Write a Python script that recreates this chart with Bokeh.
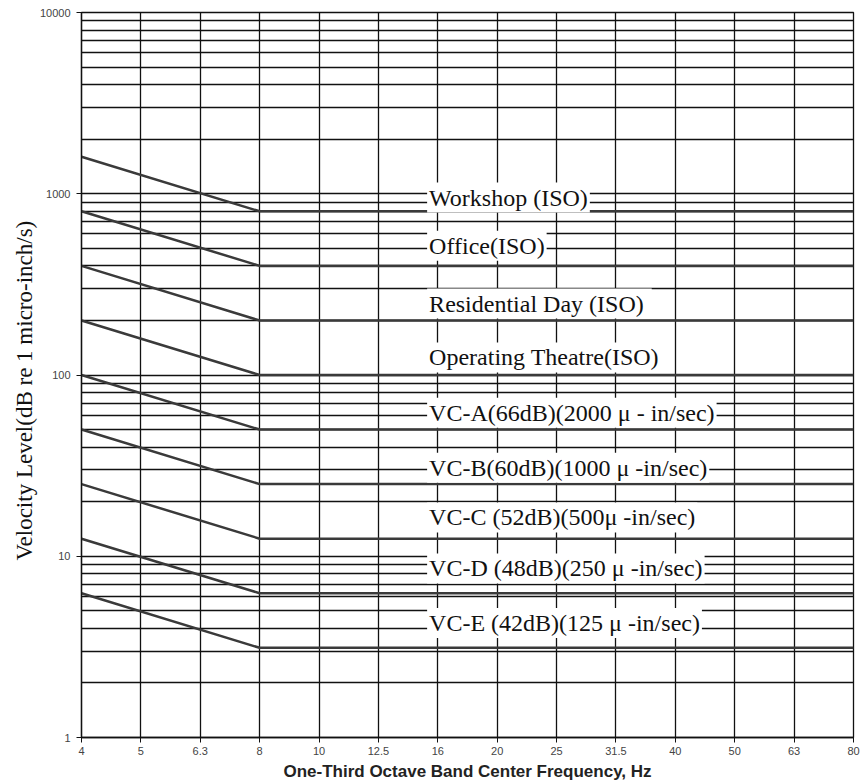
from bokeh.plotting import figure
from bokeh.models import Range1d, FixedTicker, Label, NumeralTickFormatter, Title
from bokeh.embed import file_html
from bokeh.resources import INLINE

# One-third octave band centre frequencies (Hz), shown as evenly spaced categories
freqs = ["4", "5", "6.3", "8", "10", "12.5", "16", "20", "25", "31.5", "40", "50", "63", "80"]

# Vibration criterion curves
curve_names = [
    "Workshop (ISO)",
    "Office(ISO)",
    "Residential Day  (ISO)",
    "Operating Theatre(ISO)",
    "VC-A(66dB)(2000 \u03bc - in/sec)",
    "VC-B(60dB)(1000 \u03bc -in/sec)",
    "VC-C (52dB)(500\u03bc -in/sec)",
    "VC-D (48dB)(250 \u03bc -in/sec)",
    "VC-E (42dB)(125 \u03bc -in/sec)",
]
# velocity level at 4 Hz, and the constant level from 8 Hz up to 80 Hz
level_at_4hz = [1600, 800, 400, 200, 100, 50, 25, 12.5, 6.25]
level_flat = [800, 400, 200, 100, 50, 25, 12.5, 6.25, 3.125]
curve_freqs = ["4", "8", "80"]

y_major = [1, 10, 100, 1000, 10000]

# label placement: left edge in band units, and lift above each curve (ratio)
label_x = 5.82
label_lift = [1.19, 1.29, 1.24, 1.25, 1.24, 1.23, 1.31, 1.37, 1.37]

p = figure(
    width=863, height=783,
    x_range=Range1d(0, len(freqs) - 1),
    y_range=Range1d(1, 10000),
    y_axis_type="log",
    output_backend="svg",
    toolbar_location=None,
    min_border_left=81, min_border_right=10,
    min_border_top=12, min_border_bottom=46,
)
p.background_fill_color = "white"
p.border_fill_color = "white"
p.outline_line_color = "#111111"
p.outline_line_width = 1.3

# grid
grid_color = "#111111"
p.xgrid.grid_line_color = grid_color
p.xgrid.grid_line_width = 1.3
p.ygrid.grid_line_color = grid_color
p.ygrid.grid_line_width = 1.3
p.ygrid.minor_grid_line_color = grid_color
p.ygrid.minor_grid_line_width = 1.3

# x axis
p.xaxis.ticker = FixedTicker(ticks=list(range(len(freqs))))
p.xaxis.major_label_overrides = {i: f for i, f in enumerate(freqs)}
p.xaxis.minor_tick_line_color = None
p.xaxis.major_tick_in = 0
p.xaxis.major_tick_out = 5
p.xaxis.major_label_standoff = 4
p.xaxis.axis_label = "One-Third Octave Band Center Frequency, Hz"
p.xaxis.axis_label_text_font = "Liberation Sans"
p.xaxis.axis_label_text_font_style = "bold"
p.xaxis.axis_label_text_font_size = "17px"
p.xaxis.axis_label_text_color = "#222222"
p.xaxis.axis_label_standoff = 4

# y axis (log)
minor = [k * 10 ** d for d in range(4) for k in range(2, 10)]
p.yaxis.ticker = FixedTicker(ticks=y_major, minor_ticks=minor)
p.yaxis.formatter = NumeralTickFormatter(format="0")
p.yaxis.minor_tick_line_color = None
p.yaxis.major_tick_in = 0
p.yaxis.major_tick_out = 5
p.yaxis.major_label_standoff = 6

for ax in (p.xaxis, p.yaxis):
    ax.axis_line_color = "#111111"
    ax.axis_line_width = 1.3
    ax.major_tick_line_color = "#111111"
    ax.major_label_text_font = "Liberation Sans"
    ax.major_label_text_font_size = "11px"
    ax.major_label_text_color = "#444444"

# criterion curves: falling from 4 Hz to 8 Hz, constant above
for name, lo, flat in zip(curve_names, level_at_4hz, level_flat):
    xs = [freqs.index(f) for f in curve_freqs]
    ys = [lo, flat, flat]
    p.line(xs, ys, line_color="#3a3a3a", line_width=2.5)

for name, flat, lift in zip(curve_names, level_flat, label_lift):
    p.add_layout(Label(
        x=label_x, y=flat * lift, text=name,
        text_font="Liberation Serif", text_font_size="24px",
        text_color="#111111", text_align="left", text_baseline="middle",
        background_fill_color="white", padding=2,
    ))

# vertical axis title, starting from the bottom of the frame
p.add_layout(Title(
    text="Velocity Level(dB re 1 micro-inch/s)", align="left", offset=177,
    text_font="Liberation Serif", text_font_size="23px",
    text_font_style="normal", text_color="#111111", standoff=0,
), "left")

open("out.html", "w").write(file_html(p, INLINE))
